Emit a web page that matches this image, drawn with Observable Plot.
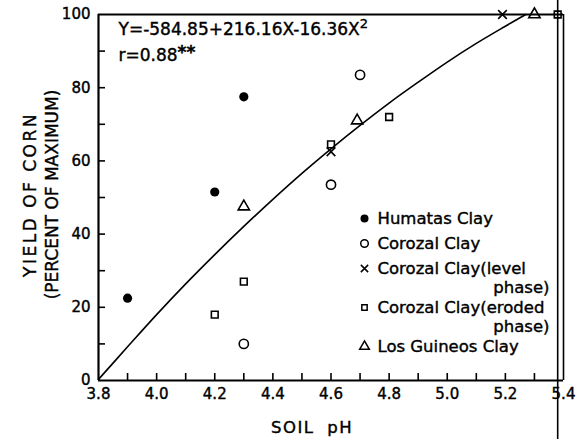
<!DOCTYPE html>
<html>
<head>
<meta charset="utf-8">
<script src="https://cdn.jsdelivr.net/npm/d3@7"></script>
<script src="https://cdn.jsdelivr.net/npm/@observablehq/plot@0.6"></script>
<style>
  html, body { margin: 0; padding: 0; background: #fff; }
  #chart svg { display: block; }
  #chart svg text { stroke: black; stroke-width: 0.4px; }
</style>
</head>
<body>
<div id="chart"></div>
<script>
// ---- data ----
const humatasX = [3.9, 4.2, 4.3];
const humatasY = [22.5, 51.5, 77.5];
const corozalX = [4.3, 4.6, 4.7];
const corozalY = [10, 53.5, 83.5];
const levelX = [4.6, 5.19];
const levelY = [62.5, 100];
const erodedX = [4.2, 4.3, 4.6, 4.8, 5.38];
const erodedY = [18, 27, 64.5, 72, 100];
const guineosX = [4.3, 4.69, 5.3];
const guineosY = [47.5, 71, 100];

// fitted curve
const curveX = [3.8, 3.9, 4.0, 4.1, 4.2, 4.3, 4.4, 4.5, 4.6, 4.7, 4.8, 4.9, 5.0, 5.1, 5.2, 5.27];
const curveY = [0.3, 9.2, 18.0, 26.4, 34.4, 42.1, 49.5, 56.6, 63.3, 69.7, 75.8, 81.5, 87.0, 92.1, 96.8, 100];

const xTickLabels = [3.8, 4.0, 4.2, 4.4, 4.6, 4.8, 5.0, 5.2, 5.4];
const xTickMinor = [3.9, 4.0, 4.1, 4.2, 4.3, 4.4, 4.5, 4.6, 4.7, 4.8, 4.9, 5.0, 5.1, 5.2, 5.3];
const yTickLabels = [0, 20, 40, 60, 80, 100];
const yTickMinor = [10, 20, 30, 40, 50, 60, 70, 80, 90];

const legendLabels = ["Humatas Clay", "Corozal Clay", "Corozal Clay(level", "Corozal Clay(eroded", "Los Guineos Clay"];
const legendExtra = ["phase)", "phase)"];
const eqText = "Y=-584.85+216.16X-16.36X";
const eqSup = "2";
const rText = "r=0.88";
const rSup = "**";
const xTitle = "SOIL pH";
const yTitle1 = "YIELD OF CORN";
const yTitle2 = "(PERCENT OF MAXIMUM)";
const edgeX = [5.38]; // scan edge line

// ---- layout / style ----
const FONT = "DejaVu Sans";
const legendRowDy = [204, 229, 254, 293, 332];
const legendExtraDy = [273, 312];
const symbols = [
  {symbol: "circle", fill: "black", stroke: "none", r: 4},
  {symbol: "circle", fill: "none", stroke: "black", r: 3.8},
  {symbol: "times", fill: "none", stroke: "black", r: 3.4},
  {symbol: "square", fill: "none", stroke: "black", r: 3},
  {symbol: "triangle", fill: "none", stroke: "black", r: 3.6}
];

const pts = (xs, ys) => xs.map((x, i) => ({x, y: ys[i]}));

const legendMarks = [];
legendLabels.forEach((lab, i) => {
  const s = symbols[i];
  legendMarks.push(Plot.dot([lab], {frameAnchor: "top-left", dx: 266, dy: legendRowDy[i], symbol: s.symbol, r: s.r, fill: s.fill, stroke: s.stroke, strokeWidth: 1.5}));
  legendMarks.push(Plot.text([lab], {text: d => d, frameAnchor: "top-left", dx: 279, dy: legendRowDy[i], textAnchor: "start", lineAnchor: "middle", fontSize: 16.5, fontFamily: FONT, fill: "black"}));
});
legendExtra.forEach((lab, i) => {
  legendMarks.push(Plot.text([lab], {text: d => d, frameAnchor: "top-left", dx: 451, dy: legendExtraDy[i], textAnchor: "end", lineAnchor: "middle", fontSize: 16.5, fontFamily: FONT, fill: "black"}));
});

const chart = Plot.plot({
  width: 577,
  height: 439,
  marginLeft: 98,
  marginRight: 14,
  marginTop: 14,
  marginBottom: 59,
  style: {fontFamily: FONT, fontSize: "15px", color: "black", background: "white", overflow: "visible"},
  x: {domain: [3.8, 5.4]},
  y: {domain: [0, 100]},
  marks: [
    Plot.axisX({ticks: xTickLabels, tickSize: 0, tickPadding: 8, tickFormat: d3.format(".1f"), label: null, fontSize: 15, fill: "black"}),
    Plot.axisX({ticks: xTickMinor, tickSize: -7, text: null, label: null, strokeWidth: 1.6}),
    Plot.axisY({ticks: yTickLabels, tickSize: 0, tickPadding: 8, label: null, fontSize: 15, fill: "black"}),
    Plot.axisY({ticks: yTickMinor, tickSize: -7, text: null, label: null, strokeWidth: 1.6}),
    Plot.ruleX([3.8], {strokeWidth: 2.2}),
    Plot.ruleY([0], {strokeWidth: 2.2}),
    Plot.ruleY([100], {strokeWidth: 2.2}),
    Plot.ruleX([5.4], {strokeWidth: 1.6}),
    Plot.ruleX(edgeX, {y1: -17, y2: 104, strokeWidth: 1.6}),
    Plot.line(pts(curveX, curveY), {x: "x", y: "y", curve: "catmull-rom", strokeWidth: 1.6, stroke: "black"}),
    Plot.dot(pts(humatasX, humatasY), {x: "x", y: "y", r: 4.6, fill: "black"}),
    Plot.dot(pts(corozalX, corozalY), {x: "x", y: "y", r: 4.6, stroke: "black", fill: "none", strokeWidth: 1.6}),
    Plot.dot(pts(levelX, levelY), {x: "x", y: "y", symbol: "times", r: 4, stroke: "black", strokeWidth: 1.6}),
    Plot.dot(pts(erodedX, erodedY), {x: "x", y: "y", symbol: "square", r: 3.8, stroke: "black", fill: "none", strokeWidth: 1.6}),
    Plot.dot(pts(guineosX, guineosY), {x: "x", y: "y", symbol: "triangle", r: 4.2, stroke: "black", fill: "none", strokeWidth: 1.6}),
    Plot.text([eqText], {text: d => d, frameAnchor: "top-left", dx: 20, dy: 15.5, textAnchor: "start", lineAnchor: "middle", fontSize: 17, fontFamily: FONT, fill: "black"}),
    Plot.text([rText], {text: d => d, frameAnchor: "top-left", dx: 20, dy: 41, textAnchor: "start", lineAnchor: "middle", fontSize: 17, fontFamily: FONT, fill: "black"}),
    Plot.text([xTitle], {text: d => d, frameAnchor: "bottom", dx: -19, dy: 47, textAnchor: "middle", lineAnchor: "middle", fontSize: 16.5, fontFamily: FONT, fill: "black"}),
    Plot.text([yTitle1], {text: d => d, frameAnchor: "left", dx: -68, dy: -3, rotate: -90, textAnchor: "middle", lineAnchor: "middle", fontSize: 17, fontFamily: FONT, fill: "black"}),
    Plot.text([yTitle2], {text: d => d, frameAnchor: "left", dx: -46, dy: -3, rotate: -90, textAnchor: "middle", lineAnchor: "middle", fontSize: 17, fontFamily: FONT, fill: "black"}),
    ...legendMarks
  ]
});

document.getElementById("chart").appendChild(chart);

// superscripts and letter spacing applied to the rendered text
const svg = d3.select(chart);
svg.selectAll("text").each(function () {
  const t = this.textContent;
  const sel = d3.select(this);
  if (t === eqText) {
    sel.append("tspan").attr("dy", "-0.55em").attr("font-size", 13).text(eqSup);
  } else if (t === rText) {
    sel.append("tspan").attr("dy", "-0.2em").attr("font-weight", "bold").text(rSup);
  } else if (t === yTitle1) {
    sel.attr("letter-spacing", 2.5);
  } else if (t === xTitle) {
    sel.attr("letter-spacing", 1.5).attr("word-spacing", 6);
  }
});
</script>
</body>
</html>
